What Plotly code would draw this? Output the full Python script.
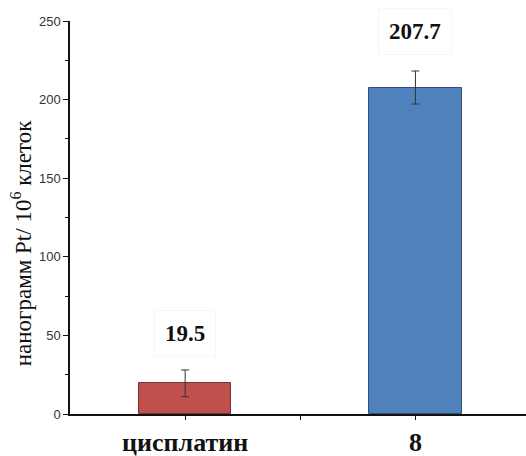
import plotly.graph_objects as go

# Platinum uptake per 10^6 cells
categories = ["цисплатин", "8"]
values = [19.5, 207.7]
errors = [8.5, 10.5]
bar_colors = ["#C0504D", "#4F81BD"]
edge_colors = ["#7a3230", "#2f4f78"]
x_pos = [1, 2]
y_title = "нанограмм Pt/ 10<sup>6</sup> клеток"

fig = go.Figure()
fig.add_trace(go.Bar(
    x=x_pos, y=values, width=0.4,
    marker=dict(color=bar_colors, line=dict(color=edge_colors, width=1)),
    error_y=dict(type="data", array=errors, visible=True,
                 color="#333333", thickness=1, width=4),
    showlegend=False, hoverinfo="skip",
))

# value labels above each bar
label_shift = [50, 56]
for xv, v, s in zip(x_pos, values, label_shift):
    fig.add_annotation(
        x=xv, y=v, yshift=s, text=f"<b>{v}</b>", showarrow=False,
        font=dict(family="Liberation Serif", size=23, color="#111111"),
        bgcolor="white", bordercolor="#f6f6f6", borderwidth=1, borderpad=10,
    )

# rotated y-axis title, sitting a little below the plot's middle
fig.add_annotation(
    xref="paper", yref="paper", x=-0.107, y=0.435,
    xanchor="center", yanchor="middle", textangle=-90,
    text=y_title, showarrow=False,
    font=dict(family="Liberation Serif", size=23, color="#111111"),
)

fig.update_layout(
    width=526, height=456,
    margin=dict(l=70, r=0, t=21, b=42),
    paper_bgcolor="white", plot_bgcolor="white",
    bargap=0,
    xaxis=dict(
        range=[0.5, 2.48], showgrid=False, zeroline=False,
        showline=True, linecolor="#111111", linewidth=1.5,
        tickvals=[1, 1.5, 2],
        ticktext=[f"<b>{categories[0]}</b>", "", f"<b>{categories[1]}</b>"],
        ticks="outside", ticklen=4, tickcolor="#111111",
        tickfont=dict(family="Liberation Serif", size=26, color="#111111"),
    ),
    yaxis=dict(
        range=[0, 250], showgrid=False, zeroline=False,
        showline=True, linecolor="#111111", linewidth=1.5,
        tickvals=[0, 50, 100, 150, 200, 250],
        ticks="outside", ticklen=5, tickcolor="#111111",
        tickfont=dict(family="Liberation Sans", size=13, color="#333333"),
        minor=dict(dtick=25, ticks="outside", ticklen=3, tickcolor="#111111"),
    ),
)

fig.write_html("out.html")
